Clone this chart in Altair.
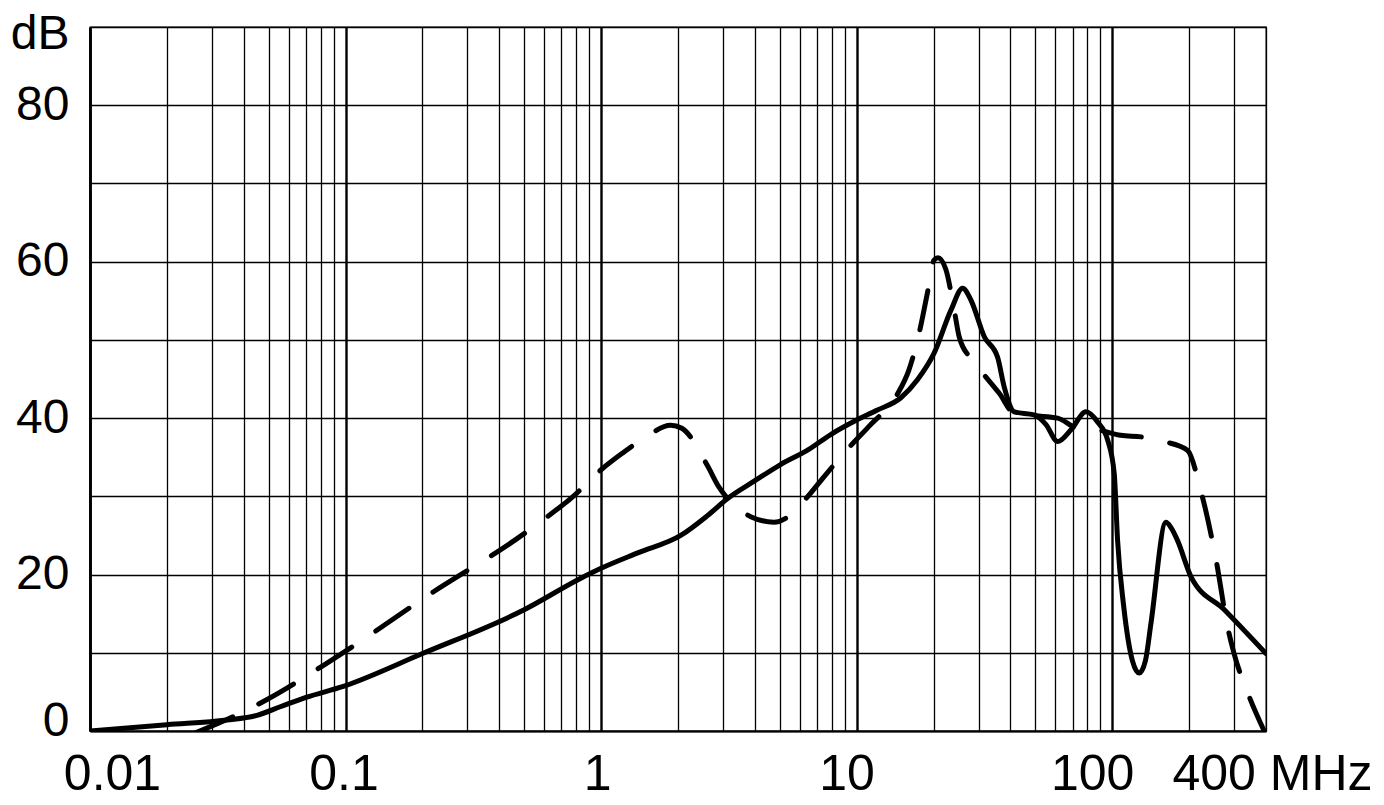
import altair as alt
import pandas as pd

# ---- data ----
solid_freq = [0.01, 0.02, 0.0343, 0.045, 0.0555, 0.07, 0.098, 0.2, 0.5, 0.83, 1.0, 1.4,
              2.05, 2.6, 3.12, 4.0, 5.0, 6.5, 8.0, 9.92, 12.0, 14.9, 17.3, 20.1, 23.4,
              26.0, 28.0, 31.6, 35.6, 37.8, 41.4, 49.5, 55.0, 61.2, 69.0, 79.0, 87.7,
              96.0, 101.9, 105.0, 111.0, 120.0, 127.6, 135.0, 141.9, 162.4, 170.0,
              180.0, 203.6, 274.8, 400.0]
solid_db = [0.0, 0.8, 1.4, 2.0, 3.1, 4.3, 5.7, 9.9, 15.5, 19.5, 20.8, 22.8,
            25.0, 27.5, 29.7, 32.0, 34.0, 36.0, 38.0, 39.7, 41.0, 42.6, 44.9, 48.3, 53.8,
            56.6, 55.1, 50.4, 47.8, 44.0, 40.8, 40.4, 39.2, 37.0, 38.5, 40.8, 39.5,
            37.2, 32.9, 24.4, 15.9, 9.0, 7.4, 9.0, 13.8, 26.7, 26.0,
            24.4, 19.7, 15.5, 9.9]

dashed_freq = [0.026, 0.034, 0.0485, 0.082, 0.1, 0.221, 0.46, 0.64, 0.76, 1.0, 1.21,
               1.5, 1.87, 2.07, 2.6, 2.89, 3.4, 3.85, 4.75, 5.5, 6.41, 7.45, 9.5, 11.3,
               14.4, 16.0, 17.8, 18.9, 20.1, 20.8, 22.3, 24.1, 25.2, 28.0, 31.6, 36.1,
               41.4, 50.0, 61.2, 73.2, 87.7, 108.0, 130.0, 160.0, 197.0, 222.0, 255.0,
               283.0, 300.0, 340.0, 400.0]
dashed_db = [-0.2, 1.4, 3.9, 8.4, 10.2, 17.8, 24.4, 27.8, 29.7, 33.4, 35.5,
             37.6, 39.1, 38.7, 34.0, 31.2, 28.6, 27.4, 26.7, 27.6, 29.9, 32.5, 36.5, 39.1,
             43.0, 46.1, 51.7, 55.9, 60.2, 60.5, 59.1, 53.8, 50.4, 47.6, 45.5, 43.2,
             40.6, 40.3, 40.0, 38.7, 38.5, 37.8, 37.6, 37.0, 35.9, 30.8, 21.9,
             13.3, 9.9, 4.8, -0.5]

x_grid = [0.01, 0.02, 0.03, 0.04, 0.05, 0.06, 0.07, 0.08, 0.09,
          0.1, 0.2, 0.3, 0.4, 0.5, 0.6, 0.7, 0.8, 0.9,
          1, 2, 3, 4, 5, 6, 7, 8, 9,
          10, 20, 30, 40, 50, 60, 70, 80, 90,
          100, 200, 300, 400]
y_grid = [0, 10, 20, 30, 40, 50, 60, 70, 80, 90]

solid = pd.DataFrame({"f": solid_freq, "db": solid_db})
dashed = pd.DataFrame({"f": dashed_freq, "db": dashed_db})

FONT = "Liberation Sans, Arial, Helvetica, sans-serif"

x_enc = alt.X(
    "f:Q",
    scale=alt.Scale(type="log", domain=[0.01, 400], nice=False),
    axis=alt.Axis(
        values=x_grid,
        title=None,
        grid=True,
        gridColor="black",
        gridWidth={
            "condition": {
                "test": "abs(log(datum.value)/LN10 - round(log(datum.value)/LN10)) < 1e-6",
                "value": 2.4,
            },
            "value": 1.3,
        },
        ticks=False,
        tickSize=0,
        domain=True,
        domainColor="black",
        domainWidth=2,
        labelExpr=(
            "datum.value == 0.01 ? '0.01' : datum.value == 0.1 ? '0.1' : "
            "datum.value == 1 ? '1' : datum.value == 10 ? '10' : "
            "datum.value == 100 ? '100' : datum.value == 400 ? '400 MHz' : ''"
        ),
        labelOffset={
            "condition": [
                {"test": "datum.value == 0.01", "value": 22},
                {"test": "datum.value == 0.1", "value": -2},
                {"test": "datum.value == 1", "value": -4},
                {"test": "datum.value == 10", "value": -10},
                {"test": "datum.value == 100", "value": -20},
                {"test": "datum.value == 400", "value": 6},
            ],
            "value": 0,
        },
        labelFont=FONT,
        labelFontSize=50,
        labelColor="black",
        labelPadding=18,
        labelLimit=0,
        labelOverlap=False,
        labelBound=False,
        labelFlush=False,
    ),
)

y_enc = alt.Y(
    "db:Q",
    scale=alt.Scale(domain=[0, 90], nice=False, zero=False),
    axis=alt.Axis(
        values=y_grid,
        title=None,
        grid=True,
        gridColor="black",
        gridWidth=1.3,
        ticks=False,
        tickSize=0,
        domain=True,
        domainColor="black",
        domainWidth=2.7,
        labelExpr=(
            "datum.value == 90 ? 'dB' : (datum.value % 20 == 0 ? '' + datum.value : '')"
        ),
        labelOffset={
            "condition": [
                {"test": "datum.value == 0", "value": -10},
                {"test": "datum.value == 90", "value": 7},
            ],
            "value": 0,
        },
        labelBaseline="middle",
        labelAlign="right",
        labelFont=FONT,
        labelFontSize=48,
        labelColor="black",
        labelPadding=21,
        labelLimit=0,
        labelOverlap=False,
        labelBound=False,
        labelFlush=False,
    ),
)

solid_line = alt.Chart(solid).mark_line(
    color="black", strokeWidth=5, interpolate="monotone", clip=True,
    strokeCap="round", strokeJoin="round",
).encode(x=x_enc, y=y_enc)

dashed_line = alt.Chart(dashed).mark_line(
    color="black", strokeWidth=5, interpolate="monotone", clip=True,
    strokeDash=[40, 29], strokeCap="round", strokeJoin="round",
).encode(x=x_enc, y=y_enc)

chart = alt.layer(solid_line, dashed_line).properties(
    width=1176,
    height=704,
    autosize=alt.AutoSizeParams(type="none"),
    padding={"left": 82, "top": 19, "right": 110, "bottom": 70},
    background="white",
).configure_view(stroke="black", strokeWidth=1.3)

chart.save("out.html", embed_options={"renderer": "svg", "actions": False})
